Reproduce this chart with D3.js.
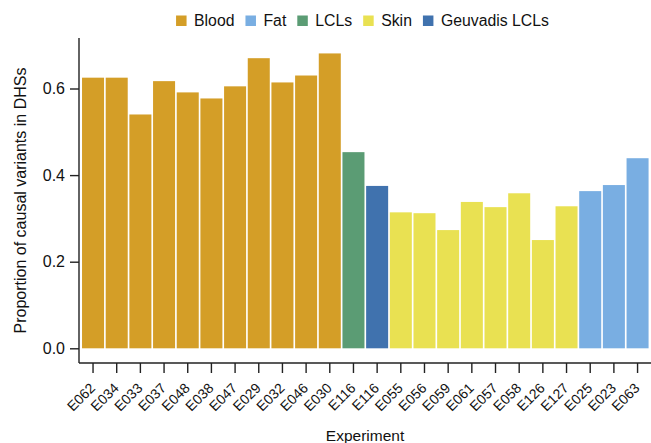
<!DOCTYPE html>
<html>
<head>
<meta charset="utf-8">
<script src="https://cdn.jsdelivr.net/npm/d3@7"></script>
<style>
  body { margin: 0; background: #fff; }
  text { font-family: "Liberation Sans", Arial, Helvetica, sans-serif; fill: #111; }
</style>
</head>
<body>
<svg id="chart"></svg>
<script>
const experiments = ["E062", "E034", "E033", "E037", "E048", "E038", "E047", "E029", "E032", "E046", "E030",
    "E116", "E116",
    "E055", "E056", "E059", "E061", "E057", "E058", "E126", "E127",
    "E025", "E023", "E063"];
const tissues = ["Blood", "Blood", "Blood", "Blood", "Blood", "Blood", "Blood", "Blood", "Blood", "Blood", "Blood",
    "LCLs", "Geuvadis LCLs",
    "Skin", "Skin", "Skin", "Skin", "Skin", "Skin", "Skin", "Skin",
    "Fat", "Fat", "Fat"];
const proportions = [0.625, 0.625, 0.540, 0.617, 0.591, 0.577, 0.605, 0.670, 0.614, 0.630, 0.681,
    0.453, 0.375,
    0.314, 0.312, 0.273, 0.338, 0.326, 0.358, 0.250, 0.328,
    0.363, 0.377, 0.439];
const legendNames = ["Blood", "Fat", "LCLs", "Skin", "Geuvadis LCLs"];
const legendColors = ["#D49E27", "#79AEE2", "#5B9C74", "#E9E152", "#4072AE"];
const yTicks = [0.0, 0.2, 0.4, 0.6];

const width = 651;
const height = 443;

const svg = d3.select("#chart")
    .attr("width", width)
    .attr("height", height);

const color = d3.scaleOrdinal().domain(legendNames).range(legendColors);

// axes are offset from the plot area (seaborn despine style)
const axisX = 79;
const axisY = 363;

const x = d3.scaleBand()
    .domain(d3.range(experiments.length))
    .range([81.2, 649.4])
    .paddingInner(0.07)
    .paddingOuter(0.035);

const y = d3.scaleLinear()
    .domain([0, 0.6])
    .range([348.3, 88.5]);

// bars
svg.append("g")
    .selectAll("rect")
    .data(proportions)
    .join("rect")
    .attr("x", (d, i) => x(i))
    .attr("y", d => y(d))
    .attr("width", x.bandwidth())
    .attr("height", d => y(0) - y(d))
    .attr("fill", (d, i) => color(tissues[i]));

// y axis
const yAxis = svg.append("g")
    .attr("transform", `translate(${axisX},0)`)
    .call(d3.axisLeft(y).tickValues(yTicks).tickFormat(d3.format(".1f")).tickSize(9).tickPadding(5).tickSizeOuter(0));
yAxis.select(".domain").attr("d", `M0,38V${axisY}`);
yAxis.selectAll(".tick text").attr("font-size", 16);

// x axis
const xAxis = svg.append("g")
    .attr("transform", `translate(0,${axisY})`)
    .call(d3.axisBottom(x).tickFormat(i => experiments[i]).tickSize(10).tickSizeOuter(0));
xAxis.select(".domain").attr("d", `M${axisX},0H${width}`);
xAxis.selectAll(".tick text")
    .attr("text-anchor", "end")
    .attr("x", 0)
    .attr("y", 0)
    .attr("dy", null)
    .attr("font-size", 14)
    .attr("transform", "translate(3,26) rotate(-45)");

svg.selectAll(".tick text")
    .attr("font-family", "Liberation Sans, Arial, sans-serif")
    .attr("fill", "#111");
svg.selectAll(".domain, .tick line")
    .attr("stroke", "#222")
    .attr("stroke-width", 1.4);

// axis titles
svg.append("text")
    .attr("x", (axisX + width) / 2)
    .attr("y", 441)
    .attr("text-anchor", "middle")
    .attr("font-size", 15.5)
    .text("Experiment");

svg.append("text")
    .attr("transform", `translate(25.5,200.5) rotate(-90)`)
    .attr("text-anchor", "middle")
    .attr("font-size", 16)
    .text("Proportion of causal variants in DHSs");

// legend
const legend = svg.append("g");
let lx = 0;
legendNames.forEach((name, i) => {
    const item = legend.append("g").attr("transform", `translate(${lx},0)`);
    item.append("rect")
        .attr("x", 0)
        .attr("y", 15.5)
        .attr("width", 10.5)
        .attr("height", 10.5)
        .attr("fill", legendColors[i]);
    const t = item.append("text")
        .attr("x", 18)
        .attr("y", 25.5)
        .attr("font-size", 15.8)
        .text(name);
    lx += 18 + t.node().getComputedTextLength() + 11;
});
const legendWidth = lx - 11;
legend.attr("transform", `translate(${362.5 - legendWidth / 2},0)`);
</script>
</body>
</html>
